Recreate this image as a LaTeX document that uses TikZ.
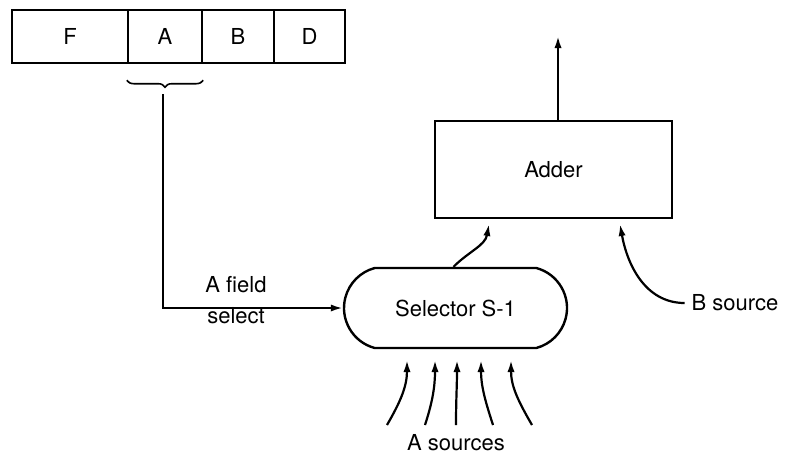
\documentclass[tikz,border=0pt]{standalone}
\usepackage{fontspec}
\setmainfont{TeX Gyre Heros}
\usetikzlibrary{arrows.meta,shapes.misc,decorations.pathreplacing,calc}

\tikzset{
  field/.style={draw, line width=1.2pt, minimum height=26.5pt, inner sep=0pt},
  unit/.style={draw, line width=1.2pt, inner sep=0pt},
  arr/.style={line width=1.1pt, -{Latex[length=6pt,width=3.6pt]}}
}

\begin{document}
\begin{tikzpicture}[x=0.5pt, y=-0.5pt, font=\fontsize{11}{13}\selectfont]
    \useasboundingbox (0,0) rectangle (786,456);

    % Instruction register
    \node[field, minimum width=58pt] (fF) at (70,36.5) {F};
    \node[field, minimum width=37pt] (fA) at (165,36.5) {A};
    \node[field, minimum width=36pt] (fB) at (238,36.5) {B};
    \node[field, minimum width=35.5pt] (fD) at (309.5,36.5) {D};

    % Brace under the A field
    \draw[line width=0.8pt, decorate, decoration={brace, mirror, amplitude=3.5pt}]
        ($(fA.south west)+(0,16)$) -- ($(fA.south east)+(0,16)$);
    \coordinate (atap) at (163,94);

    % Adder and selector
    \node[unit, minimum width=118.5pt, minimum height=48.5pt] (adder) at (553.5,169.5) {Adder};
    \node[unit, rounded rectangle, rounded rectangle arc length=150,
          minimum width=111.5pt, minimum height=40pt] (sel) at (455.5,308) {Selector S-1};

    % A field select
    \draw[arr] (atap) |- (sel.west);
    \node (afield) at (236,285) {A field};
    \node (aselect) at (236,316) {select};

    % Adder output
    \coordinate (aout) at (558,36);
    \draw[arr] (adder.north -| aout) -- (aout);

    % Selector to adder
    \coordinate (ain) at (489,224);
    \draw[arr] ($(sel.north)+(-2,0)$) to[out=45, in=-100] (ain);

    % B source
    \node (bsrc) at (735,303) {B source};
    \coordinate (bin) at (620,224);
    \draw[arr] (bsrc.west) to[out=180, in=-80] (bin);

    % A sources
    \node (asrc) at (456,443) {A sources};
    \foreach \i/\bx/\tx/\a in {1/387/407/60, 2/425/435/72, 3/456/457/90, 4/493/481/108, 5/532/511/120}{
        \coordinate (sb\i) at (\bx,425);
        \coordinate (st\i) at (\tx,360);
        \draw[arr] (sb\i) to[out=\a, in=-90] (st\i);
    }
\end{tikzpicture}
\end{document}
